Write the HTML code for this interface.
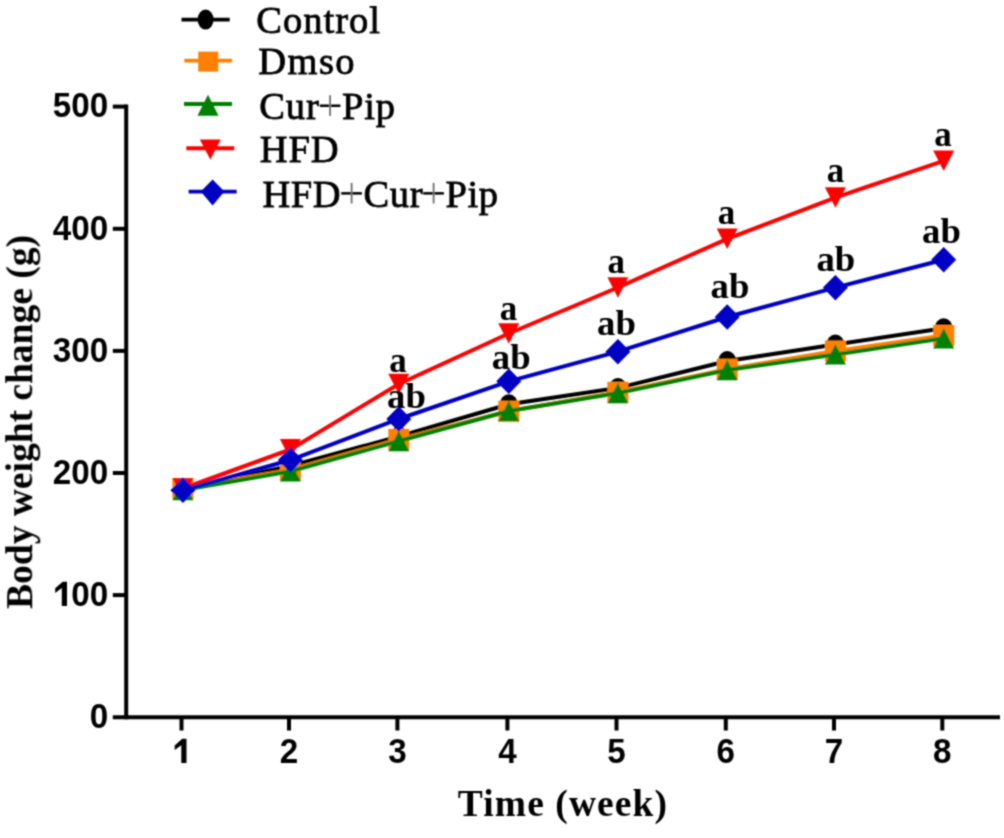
<!DOCTYPE html>
<html><head><meta charset="utf-8"><style>
html,body{margin:0;padding:0;background:#fff;}
svg{display:block;}
.tk{font-family:"Liberation Sans",sans-serif;font-weight:bold;font-size:35.5px;fill:#000;}
.lg{font-family:"Liberation Serif",serif;font-size:38.5px;fill:#000;stroke:#000;stroke-width:0.8px;}
.pl{fill:none;stroke:none;}
.an{font-family:"Liberation Serif",serif;font-weight:bold;font-size:35px;fill:#000;}
.ti{font-family:"Liberation Serif",serif;font-weight:bold;font-size:38px;fill:#000;}
</style></head><body>
<svg width="1004" height="838" viewBox="0 0 1004 838">
<defs><filter id="bl" x="0" y="0" width="1004" height="838" filterUnits="userSpaceOnUse"><feConvolveMatrix order="3" kernelMatrix="1 2 1 2 6 2 1 2 1" divisor="18" edgeMode="duplicate" preserveAlpha="false"/></filter></defs>
<rect width="1004" height="838" fill="#fff"/>
<g filter="url(#bl)">
<line x1="126.2" y1="104.5" x2="126.2" y2="719.2" stroke="#000" stroke-width="4"/>
<line x1="112.8" y1="717.2" x2="1000" y2="717.2" stroke="#000" stroke-width="4"/>
<line x1="112.8" y1="595.1" x2="126.2" y2="595.1" stroke="#000" stroke-width="4"/>
<line x1="112.8" y1="473.0" x2="126.2" y2="473.0" stroke="#000" stroke-width="4"/>
<line x1="112.8" y1="350.9" x2="126.2" y2="350.9" stroke="#000" stroke-width="4"/>
<line x1="112.8" y1="228.8" x2="126.2" y2="228.8" stroke="#000" stroke-width="4"/>
<line x1="112.8" y1="106.6" x2="126.2" y2="106.6" stroke="#000" stroke-width="4"/>
<line x1="181.5" y1="717.2" x2="181.5" y2="730.5" stroke="#000" stroke-width="4"/>
<line x1="289.0" y1="717.2" x2="289.0" y2="730.5" stroke="#000" stroke-width="4"/>
<line x1="397.4" y1="717.2" x2="397.4" y2="730.5" stroke="#000" stroke-width="4"/>
<line x1="507.4" y1="717.2" x2="507.4" y2="730.5" stroke="#000" stroke-width="4"/>
<line x1="616.5" y1="717.2" x2="616.5" y2="730.5" stroke="#000" stroke-width="4"/>
<line x1="725.8" y1="717.2" x2="725.8" y2="730.5" stroke="#000" stroke-width="4"/>
<line x1="834.0" y1="717.2" x2="834.0" y2="730.5" stroke="#000" stroke-width="4"/>
<line x1="942.3" y1="717.2" x2="942.3" y2="730.5" stroke="#000" stroke-width="4"/>
<text transform="translate(108.2,728.0) scale(0.935,1)" class="tk" text-anchor="end">0</text>
<text transform="translate(108.2,605.9) scale(0.935,1)" class="tk" text-anchor="end">00</text>
<polygon points="61.8,605.9 67.0,605.9 67.0,581.7 62.7,581.7 55.2,588.3 55.2,593.0 61.8,588.1" fill="#000"/>
<text transform="translate(108.2,483.8) scale(0.935,1)" class="tk" text-anchor="end">200</text>
<text transform="translate(108.2,361.7) scale(0.935,1)" class="tk" text-anchor="end">300</text>
<text transform="translate(108.2,239.6) scale(0.935,1)" class="tk" text-anchor="end">400</text>
<text transform="translate(108.2,117.4) scale(0.935,1)" class="tk" text-anchor="end">500</text>
<polygon points="181.3,763.0 186.5,763.0 186.5,738.8 182.2,738.8 174.7,745.4 174.7,750.1 181.3,745.2" fill="#000"/>
<text transform="translate(289.0,763) scale(0.935,1)" class="tk" text-anchor="middle">2</text>
<text transform="translate(397.4,763) scale(0.935,1)" class="tk" text-anchor="middle">3</text>
<text transform="translate(507.4,763) scale(0.935,1)" class="tk" text-anchor="middle">4</text>
<text transform="translate(616.5,763) scale(0.935,1)" class="tk" text-anchor="middle">5</text>
<text transform="translate(725.8,763) scale(0.935,1)" class="tk" text-anchor="middle">6</text>
<text transform="translate(834.0,763) scale(0.935,1)" class="tk" text-anchor="middle">7</text>
<text transform="translate(942.3,763) scale(0.935,1)" class="tk" text-anchor="middle">8</text>
<polyline points="182.9,489.0 290.4,466.0 398.8,436.5 508.8,404.3 617.9,388.0 727.2,361.0 835.4,344.5 943.7,328.2" fill="none" stroke="#000000" stroke-width="4.0" stroke-linejoin="miter"/>
<ellipse cx="182.9" cy="489.0" rx="9" ry="10" fill="#000000"/>
<ellipse cx="290.4" cy="466.0" rx="9" ry="10" fill="#000000"/>
<ellipse cx="398.8" cy="436.5" rx="9" ry="10" fill="#000000"/>
<ellipse cx="508.8" cy="404.3" rx="9" ry="10" fill="#000000"/>
<ellipse cx="617.9" cy="388.0" rx="9" ry="10" fill="#000000"/>
<ellipse cx="727.2" cy="361.0" rx="9" ry="10" fill="#000000"/>
<ellipse cx="835.4" cy="344.5" rx="9" ry="10" fill="#000000"/>
<ellipse cx="943.7" cy="328.2" rx="9" ry="10" fill="#000000"/>
<polyline points="182.9,488.5 290.4,470.0 398.8,439.4 508.8,411.2 617.9,392.3 727.2,369.2 835.4,351.0 943.7,335.5" fill="none" stroke="#FF8000" stroke-width="4.0" stroke-linejoin="miter"/>
<rect x="172.4" y="478.0" width="21" height="21" fill="#FF8000"/>
<rect x="279.9" y="459.5" width="21" height="21" fill="#FF8000"/>
<rect x="388.3" y="428.9" width="21" height="21" fill="#FF8000"/>
<rect x="498.3" y="400.7" width="21" height="21" fill="#FF8000"/>
<rect x="607.4" y="381.8" width="21" height="21" fill="#FF8000"/>
<rect x="716.7" y="358.7" width="21" height="21" fill="#FF8000"/>
<rect x="824.9" y="340.5" width="21" height="21" fill="#FF8000"/>
<rect x="933.2" y="325.0" width="21" height="21" fill="#FF8000"/>
<polyline points="182.9,490.0 290.4,471.3 398.8,441.0 508.8,411.0 617.9,393.0 727.2,370.0 835.4,354.4 943.7,338.3" fill="none" stroke="#008000" stroke-width="4.0" stroke-linejoin="miter"/>
<polygon points="172.4,500.2 193.4,500.2 182.9,479.8" fill="#008000"/>
<polygon points="279.9,481.6 300.9,481.6 290.4,461.1" fill="#008000"/>
<polygon points="388.3,451.2 409.3,451.2 398.8,430.8" fill="#008000"/>
<polygon points="498.3,421.2 519.3,421.2 508.8,400.8" fill="#008000"/>
<polygon points="607.4,403.2 628.4,403.2 617.9,382.8" fill="#008000"/>
<polygon points="716.7,380.2 737.7,380.2 727.2,359.8" fill="#008000"/>
<polygon points="824.9,364.6 845.9,364.6 835.4,344.1" fill="#008000"/>
<polygon points="933.2,348.6 954.2,348.6 943.7,328.1" fill="#008000"/>
<polyline points="182.9,488.5 290.4,449.4 398.8,384.0 508.8,333.5 617.9,287.5 727.2,238.8 835.4,197.6 943.7,160.8" fill="none" stroke="#FF0000" stroke-width="4.0" stroke-linejoin="miter"/>
<polygon points="172.4,478.2 193.4,478.2 182.9,498.8" fill="#FF0000"/>
<polygon points="279.9,439.1 300.9,439.1 290.4,459.6" fill="#FF0000"/>
<polygon points="388.3,373.8 409.3,373.8 398.8,394.2" fill="#FF0000"/>
<polygon points="498.3,323.2 519.3,323.2 508.8,343.8" fill="#FF0000"/>
<polygon points="607.4,277.2 628.4,277.2 617.9,297.8" fill="#FF0000"/>
<polygon points="716.7,228.6 737.7,228.6 727.2,249.1" fill="#FF0000"/>
<polygon points="824.9,187.3 845.9,187.3 835.4,207.8" fill="#FF0000"/>
<polygon points="933.2,150.5 954.2,150.5 943.7,171.0" fill="#FF0000"/>
<polyline points="182.9,490.3 290.4,460.0 398.8,419.0 508.8,381.3 617.9,351.7 727.2,317.0 835.4,287.6 943.7,259.7" fill="none" stroke="#0000C4" stroke-width="4.0" stroke-linejoin="miter"/>
<polygon points="182.9,477.6 195.4,490.3 182.9,503.1 170.4,490.3" fill="#0000C4"/>
<polygon points="290.4,447.2 302.9,460.0 290.4,472.8 277.9,460.0" fill="#0000C4"/>
<polygon points="398.8,406.2 411.3,419.0 398.8,431.8 386.3,419.0" fill="#0000C4"/>
<polygon points="508.8,368.6 521.3,381.3 508.8,394.1 496.3,381.3" fill="#0000C4"/>
<polygon points="617.9,338.9 630.4,351.7 617.9,364.4 605.4,351.7" fill="#0000C4"/>
<polygon points="727.2,304.2 739.7,317.0 727.2,329.8 714.7,317.0" fill="#0000C4"/>
<polygon points="835.4,274.9 847.9,287.6 835.4,300.4 822.9,287.6" fill="#0000C4"/>
<polygon points="943.7,246.9 956.2,259.7 943.7,272.4 931.2,259.7" fill="#0000C4"/>
<line x1="181.5" y1="19.6" x2="229.7" y2="19.6" stroke="#000000" stroke-width="3.9"/>
<ellipse cx="205.6" cy="19.6" rx="8" ry="10" fill="#000000"/>
<text x="256.3" y="32.9" class="lg" style="letter-spacing:1.0px">Control</text>
<line x1="184.3" y1="60.6" x2="232" y2="60.6" stroke="#FF8000" stroke-width="3.9"/>
<rect x="198.2" y="51.6" width="20" height="20" fill="#FF8000"/>
<text x="258.3" y="74.2" class="lg" style="letter-spacing:1.43px">Dmso</text>
<line x1="184" y1="104" x2="232" y2="104" stroke="#008000" stroke-width="3.9"/>
<polygon points="197.5,115.7 218.5,115.7 208.0,94.7" fill="#008000"/>
<text x="259.3" y="118.9" class="lg" style="letter-spacing:0.83px">Cur<tspan class="pl">+</tspan>Pip</text>
<line x1="186.3" y1="148.2" x2="234.3" y2="148.2" stroke="#FF0000" stroke-width="3.9"/>
<polygon points="199.8,139.4 220.8,139.4 210.3,159.4" fill="#FF0000"/>
<text x="259.8" y="161.8" class="lg" style="letter-spacing:0.85px">HFD</text>
<line x1="188.6" y1="191.6" x2="236.7" y2="191.6" stroke="#0000C4" stroke-width="3.9"/>
<polygon points="212.6,179.6 224.4,191.6 212.6,205.6 200.8,191.6" fill="#0000C4"/>
<text x="262.4" y="206.5" class="lg" style="letter-spacing:0.6px">HFD<tspan class="pl">+</tspan>Cur<tspan class="pl">+</tspan>Pip</text>
<rect x="319.8" y="104.5" width="20.6" height="2.5" fill="#000"/><rect x="329.2" y="95.3" width="1.8" height="20.6" fill="#6e6e6e"/>
<rect x="341.3" y="192.1" width="20.6" height="2.5" fill="#000"/><rect x="350.7" y="182.9" width="1.8" height="20.6" fill="#6e6e6e"/>
<rect x="423.3" y="192.1" width="20.6" height="2.5" fill="#000"/><rect x="432.7" y="182.9" width="1.8" height="20.6" fill="#6e6e6e"/>
<text x="398" y="371.6" class="an" text-anchor="middle">a</text>
<text x="508.5" y="320.2" class="an" text-anchor="middle">a</text>
<text x="616.3" y="272.8" class="an" text-anchor="middle">a</text>
<text x="726.5" y="224.20000000000002" class="an" text-anchor="middle">a</text>
<text x="835.5" y="182.4" class="an" text-anchor="middle">a</text>
<text x="943" y="146.0" class="an" text-anchor="middle">a</text>
<text transform="translate(406.5,408.0) scale(1.05,1)" class="an" text-anchor="middle">ab</text>
<text transform="translate(511.2,369.3) scale(1.05,1)" class="an" text-anchor="middle">ab</text>
<text transform="translate(616.5,335.3) scale(1.05,1)" class="an" text-anchor="middle">ab</text>
<text transform="translate(730,297.7) scale(1.05,1)" class="an" text-anchor="middle">ab</text>
<text transform="translate(835.8,271.2) scale(1.05,1)" class="an" text-anchor="middle">ab</text>
<text transform="translate(941.4,242.8) scale(1.05,1)" class="an" text-anchor="middle">ab</text>
<text x="563" y="816" class="ti" text-anchor="middle" style="font-size:37.5px;letter-spacing:1.1px">Time (week)</text>
<text transform="translate(32.2,421.9) rotate(-90)" x="0" y="0" class="ti" text-anchor="middle" style="font-size:37.5px">Body weight change (g)</text>
</g>
</svg>
</body></html>
